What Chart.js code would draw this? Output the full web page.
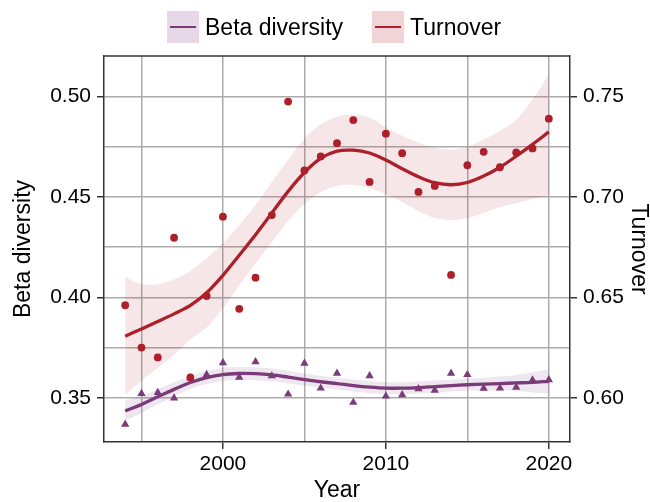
<!DOCTYPE html>
<html>
<head>
<meta charset="utf-8">
<script src="https://cdn.jsdelivr.net/npm/chart.js@4/dist/chart.umd.min.js"></script>
<style>
  html, body { margin: 0; padding: 0; background: #ffffff; }
  #wrap { width: 650px; height: 502px; }
</style>
</head>
<body>
<div id="wrap"><canvas id="chart" width="650" height="502"></canvas></div>
<script>
// Survey years
const years = [1994, 1995, 1996, 1997, 1998, 1999, 2000, 2001, 2002, 2003, 2004, 2005, 2006, 2007,
               2008, 2009, 2010, 2011, 2012, 2013, 2014, 2015, 2016, 2017, 2018, 2019, 2020];

// Yearly observations
const betaObserved = [0.3368, 0.3521, 0.3526, 0.3499, 0.3598, 0.3616, 0.3674, 0.3602, 0.3679, 0.3609, 0.3518, 0.3672, 0.3548, 0.3622,
                      0.3477, 0.3610, 0.3508, 0.3515, 0.3545, 0.3537, 0.3622, 0.3615, 0.3547, 0.3548, 0.3552, 0.3588, 0.3590];
const turnoverObserved = [0.6461, 0.6250, 0.6201, 0.6797, 0.6102, 0.6507, 0.6902, 0.6443, 0.6598, 0.6910, 0.7475, 0.7132, 0.7202, 0.7268,
                          0.7383, 0.7075, 0.7315, 0.7218, 0.7025, 0.7055, 0.6612, 0.7158, 0.7225, 0.7148, 0.7222, 0.7242, 0.7390];

// Smoothed trends with their confidence bands
const betaFit = [0.3435, 0.3467, 0.3505, 0.3542, 0.3576, 0.3601, 0.3616, 0.3621, 0.3620, 0.3614, 0.3603, 0.3591, 0.3580, 0.3571,
                 0.3561, 0.3553, 0.3548, 0.3548, 0.3551, 0.3556, 0.3561, 0.3565, 0.3568, 0.3571, 0.3574, 0.3577, 0.3582];
const betaUpper = [0.3485, 0.3510, 0.3543, 0.3577, 0.3608, 0.3633, 0.3648, 0.3653, 0.3652, 0.3646, 0.3635, 0.3621, 0.3610, 0.3601,
                   0.3591, 0.3583, 0.3578, 0.3578, 0.3581, 0.3586, 0.3591, 0.3595, 0.3600, 0.3606, 0.3614, 0.3627, 0.3642];
const betaLower = [0.3385, 0.3424, 0.3467, 0.3507, 0.3544, 0.3569, 0.3584, 0.3589, 0.3588, 0.3582, 0.3571, 0.3561, 0.3550, 0.3541,
                   0.3531, 0.3523, 0.3518, 0.3518, 0.3521, 0.3526, 0.3531, 0.3535, 0.3536, 0.3536, 0.3534, 0.3527, 0.3522];

const turnoverFit = [0.6307, 0.6343, 0.6380, 0.6418, 0.6460, 0.6523, 0.6610, 0.6710, 0.6812, 0.6920, 0.7028, 0.7122, 0.7192, 0.7228,
                     0.7233, 0.7219, 0.7184, 0.7141, 0.7101, 0.7071, 0.7061, 0.7072, 0.7104, 0.7148, 0.7203, 0.7262, 0.7324];
const turnoverUpper = [0.6600, 0.6565, 0.6565, 0.6590, 0.6632, 0.6695, 0.6768, 0.6860, 0.6960, 0.7075, 0.7185, 0.7290, 0.7362, 0.7400,
                       0.7410, 0.7395, 0.7348, 0.7305, 0.7270, 0.7245, 0.7235, 0.7250, 0.7285, 0.7330, 0.7385, 0.7485, 0.7610];
const turnoverLower = [0.6015, 0.6085, 0.6150, 0.6215, 0.6290, 0.6350, 0.6445, 0.6560, 0.6670, 0.6775, 0.6880, 0.6965, 0.7025, 0.7055,
                       0.7060, 0.7045, 0.7015, 0.6975, 0.6930, 0.6895, 0.6885, 0.6895, 0.6922, 0.6950, 0.6970, 0.6990, 0.7010];

// Axis tick labels
const xTickLabels = [2000, 2010, 2020];
const betaTickLabels = ['0.35', '0.40', '0.45', '0.50'];
const turnoverTickLabels = ['0.60', '0.65', '0.70', '0.75'];

const seriesNames = ['Beta diversity', 'Turnover'];

const BETA = '#7b3a78';
const TURN = '#ad1f29';
const FONT = "'Liberation Sans', Arial, Helvetica, sans-serif";

Chart.defaults.font.family = FONT;
Chart.defaults.color = '#000000';

const pts = vals => years.map((yr, i) => ({ x: yr, y: vals[i] }));

const bandPair = (upper, lower, axis, fillColor, order) => [
  { type: 'line', data: pts(upper), yAxisID: axis, borderWidth: 0, pointRadius: 0,
    tension: 0.3, fill: false, order },
  { type: 'line', data: pts(lower), yAxisID: axis, borderWidth: 0, pointRadius: 0,
    tension: 0.3, fill: '-1', backgroundColor: fillColor, order }
];

const fitLine = (vals, axis, color, order) => ({
  type: 'line', data: pts(vals), yAxisID: axis, borderColor: color, borderWidth: 3.3,
  pointRadius: 0, tension: 0.35, fill: false, order, borderCapStyle: 'butt'
});

const markers = (vals, axis, color, style, radius, order) => ({
  type: 'line', data: pts(vals), yAxisID: axis, showLine: false, pointStyle: style,
  pointRadius: radius, pointBackgroundColor: color, pointBorderWidth: 0, order
});

// Labelled ticks get a tick mark; the in-between ones only a grid line
const isMajorX = v => Math.round(v) % 10 === 0;
const tickLabelFrom = (labels) => v => {
  const s = v.toFixed(2);
  return labels.includes(s) ? s : '';
};
const majorY = (labels) => ctx => (ctx.tick && labels.includes(ctx.tick.value.toFixed(2))) ? '#333333' : 'rgba(0,0,0,0)';

// Legend patches drawn across the top of the figure
const legendPlugin = {
  id: 'topLegend',
  afterDraw(chart) {
    const ctx = chart.ctx;
    const items = [
      { name: seriesNames[0], patch: '#e6d8e6', color: BETA, x: 167 },
      { name: seriesNames[1], patch: '#f1d4d6', color: TURN, x: 372 }
    ];
    ctx.save();
    items.forEach(it => {
      ctx.fillStyle = it.patch;
      ctx.fillRect(it.x, 11, 32, 32);
      ctx.strokeStyle = it.color;
      ctx.lineWidth = 2;
      ctx.beginPath();
      ctx.moveTo(it.x + 3, 27);
      ctx.lineTo(it.x + 29, 27);
      ctx.stroke();
      ctx.fillStyle = '#000000';
      ctx.font = '23px ' + FONT;
      ctx.textBaseline = 'alphabetic';
      ctx.textAlign = 'left';
      ctx.fillText(it.name, it.x + 38, 35);
    });
    ctx.restore();
  }
};

// Top edge of the frame
const framePlugin = {
  id: 'frameTop',
  afterDraw(chart) {
    const { ctx, chartArea } = chart;
    ctx.save();
    ctx.strokeStyle = '#333333';
    ctx.lineWidth = 1.5;
    ctx.beginPath();
    ctx.moveTo(chartArea.left, chartArea.top);
    ctx.lineTo(chartArea.right, chartArea.top);
    ctx.stroke();
    ctx.restore();
  }
};

const gridCommon = { color: '#ababab', lineWidth: 1.5, tickLength: 7, tickWidth: 1.5 };

new Chart(document.getElementById('chart'), {
  type: 'line',
  data: {
    datasets: [
      ...bandPair(turnoverUpper, turnoverLower, 'y2', 'rgba(173,31,41,0.11)', 9),
      ...bandPair(betaUpper, betaLower, 'y', 'rgba(123,58,120,0.12)', 7),
      fitLine(turnoverFit, 'y2', TURN, 5),
      fitLine(betaFit, 'y', BETA, 4),
      markers(betaObserved, 'y', BETA, 'triangle', 4.8, 3),
      markers(turnoverObserved, 'y2', TURN, 'circle', 3.9, 2)
    ]
  },
  options: {
    responsive: false,
    animation: false,
    devicePixelRatio: 1,
    layout: { padding: { top: 56, left: 0, right: 0, bottom: 0 } },
    plugins: { legend: { display: false }, tooltip: { enabled: false } },
    scales: {
      x: {
        type: 'linear',
        min: 1992.7,
        max: 2021.3,
        ticks: {
          stepSize: 5,
          includeBounds: false,
          autoSkip: false,
          maxRotation: 0,
          padding: 3,
          font: { size: 21 },
          color: '#000000',
          callback: v => xTickLabels.includes(Math.round(v)) ? String(Math.round(v)) : ''
        },
        grid: { ...gridCommon, tickColor: ctx => (ctx.tick && isMajorX(ctx.tick.value)) ? '#333333' : 'rgba(0,0,0,0)' },
        border: { color: '#333333', width: 1.5 },
        title: { display: true, text: 'Year', font: { size: 23, lineHeight: 1 }, padding: { top: 0, bottom: 0 }, color: '#000000' },
        afterFit: s => { s.height = 60; }
      },
      y: {
        type: 'linear',
        position: 'left',
        min: 0.328,
        max: 0.5202,
        ticks: {
          stepSize: 0.025,
          includeBounds: false,
          autoSkip: false,
          padding: 6,
          font: { size: 21 },
          color: '#000000',
          callback: tickLabelFrom(betaTickLabels)
        },
        grid: { ...gridCommon, tickColor: majorY(betaTickLabels) },
        border: { color: '#333333', width: 1.5 },
        title: { display: true, text: 'Beta diversity', font: { size: 23, lineHeight: 1 }, padding: { top: 12.5, bottom: 0 }, color: '#000000' },
        afterFit: s => { s.width = 104; }
      },
      y2: {
        type: 'linear',
        position: 'right',
        min: 0.578,
        max: 0.7702,
        ticks: {
          stepSize: 0.025,
          includeBounds: false,
          autoSkip: false,
          padding: 6,
          font: { size: 21 },
          color: '#000000',
          callback: tickLabelFrom(turnoverTickLabels)
        },
        grid: { ...gridCommon, drawOnChartArea: false, tickColor: majorY(turnoverTickLabels) },
        border: { color: '#333333', width: 1.5 },
        title: { display: true, text: 'Turnover', font: { size: 23, lineHeight: 1 }, padding: { top: 0, bottom: 0 }, color: '#000000' },
        afterFit: s => { s.width = 80; }
      }
    }
  },
  plugins: [legendPlugin, framePlugin]
});
</script>
</body>
</html>
